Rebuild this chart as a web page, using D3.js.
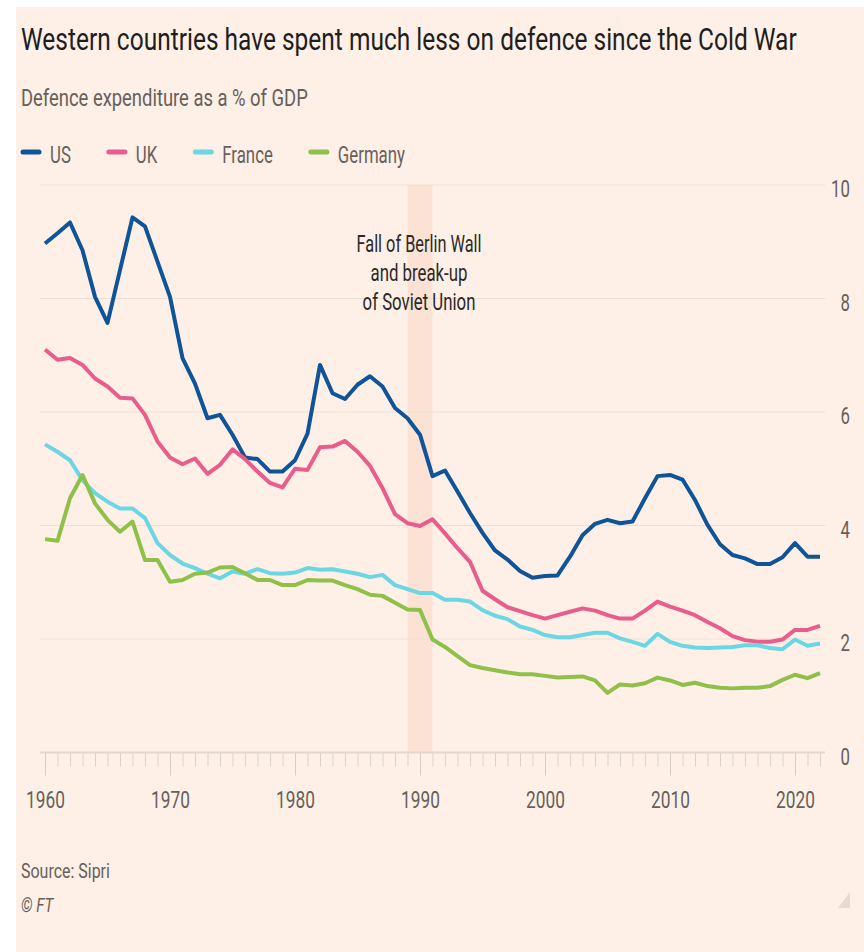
<!DOCTYPE html>
<html><head><meta charset="utf-8">
<script src="https://cdn.jsdelivr.net/npm/d3@7"></script>
<style>
body{margin:0;background:#fff;}
svg{display:block;}
text{font-family:Roboto,"Noto Sans",sans-serif;}
</style>
</head><body><div id="chart"></div>
<script>
// ---------- data ----------
const titleText = "Western countries have spent much less on defence since the Cold War";
const subtitleText = "Defence expenditure as a % of GDP";
const sourceText = "Source: Sipri";
const creditText = "\u00A9 FT";
const annotationLines = ["Fall of Berlin Wall", "and break-up", "of Soviet Union"];
const bandYears = [1989, 1991];
const years = d3.range(1960, 2023);
const xTickLabels = [1960, 1970, 1980, 1990, 2000, 2010, 2020];
const yTickLabels = [0, 2, 4, 6, 8, 10];
const seriesNames = ["US", "UK", "France", "Germany"];
const seriesColors = ["#0f5499", "#e95d8c", "#6bd6e4", "#8ec04a"];

const us = [8.97,9.15,9.34,8.85,8.03,7.57,8.5,9.43,9.27,8.65,8.03,6.95,6.5,5.89,5.95,5.6,5.2,5.17,4.95,4.95,
  5.15,5.62,6.83,6.33,6.23,6.48,6.63,6.45,6.07,5.89,5.6,4.87,4.97,4.6,4.22,3.87,3.56,3.4,3.2,3.08,
  3.11,3.12,3.45,3.83,4.03,4.1,4.04,4.07,4.48,4.87,4.89,4.81,4.45,4.01,3.67,3.48,3.42,3.32,3.32,3.44,
  3.69,3.45,3.45];
const uk = [7.1,6.92,6.95,6.83,6.59,6.45,6.25,6.24,5.95,5.48,5.2,5.08,5.18,4.91,5.07,5.34,5.17,4.95,4.75,4.67,
  5.0,4.98,5.38,5.39,5.49,5.3,5.05,4.66,4.2,4.04,3.99,4.11,3.86,3.6,3.36,2.85,2.7,2.56,2.49,2.42,
  2.36,2.42,2.48,2.54,2.5,2.42,2.36,2.36,2.5,2.66,2.57,2.5,2.42,2.3,2.19,2.05,1.98,1.95,1.95,1.99,
  2.16,2.16,2.23];
const france = [5.43,5.3,5.15,4.8,4.57,4.42,4.3,4.3,4.13,3.69,3.48,3.33,3.25,3.15,3.07,3.19,3.15,3.23,3.16,3.15,
  3.17,3.25,3.22,3.23,3.19,3.15,3.09,3.13,2.95,2.88,2.81,2.81,2.69,2.69,2.66,2.51,2.41,2.35,2.22,2.16,
  2.07,2.03,2.03,2.07,2.11,2.11,2.01,1.95,1.88,2.09,1.95,1.88,1.85,1.84,1.85,1.86,1.89,1.89,1.84,1.82,
  1.99,1.88,1.92];
const germany = [3.76,3.73,4.48,4.89,4.39,4.1,3.89,4.07,3.39,3.39,3.01,3.04,3.15,3.17,3.26,3.27,3.16,3.04,3.04,2.95,
  2.95,3.04,3.03,3.03,2.95,2.88,2.78,2.76,2.64,2.52,2.51,1.99,1.86,1.7,1.54,1.49,1.45,1.41,1.38,1.38,
  1.35,1.32,1.33,1.34,1.27,1.05,1.2,1.18,1.22,1.32,1.27,1.19,1.23,1.17,1.14,1.13,1.14,1.14,1.17,1.28,
  1.37,1.31,1.4];
const seriesValues = [us, uk, france, germany];

// ---------- layout ----------
const W = 864, H = 952;
const textDark = "#1e1e1e", textGrey = "#66605c";
const svg = d3.select("#chart").append("svg").attr("width", W).attr("height", H);
svg.append("rect").attr("x", 16).attr("y", 7).attr("width", W - 16).attr("height", H - 7).attr("fill", "#fef0e6");

// squeezed text helper (reference text is horizontally condensed)
function addText(parent, str, x, y, o) {
  const t = parent.append("text").text(str)
    .attr("x", 0).attr("y", 0)
    .attr("font-size", o.size).attr("fill", o.color)
    .attr("text-anchor", o.anchor || "start")
    .attr("font-style", o.italic ? "italic" : "normal");
  const len = t.node().getComputedTextLength();
  const k = o.width ? o.width / len : (o.k || 0.72);
  t.attr("transform", `translate(${x},${y}) scale(${k},1)`);
  return {node: t, width: len * k};
}

addText(svg, titleText, 21, 50, {size: 32, color: textDark, width: 776});
addText(svg, subtitleText, 21, 106, {size: 24, color: textGrey, width: 287});

// legend
let lx = 21;
seriesNames.forEach((name, i) => {
  svg.append("line").attr("x1", lx + 2).attr("x2", lx + 18).attr("y1", 152).attr("y2", 152)
    .attr("stroke", seriesColors[i]).attr("stroke-width", 5).attr("stroke-linecap", "round");
  const t = addText(svg, name, lx + 29, 162.5, {size: 24, color: textGrey, k: 0.7});
  lx = lx + 29 + t.width + 36;
});

// scales
const x = d3.scaleLinear().domain([1960, 2022]).range([45, 820]);
const y = d3.scaleLinear().domain([0, 10]).range([752.5, 185]);

// band
svg.append("rect")
  .attr("x", x(bandYears[0])).attr("width", x(bandYears[1]) - x(bandYears[0]))
  .attr("y", y(10)).attr("height", y(0) - y(10))
  .attr("fill", "#fbe2d4");

// gridlines
svg.append("g").selectAll("line").data(yTickLabels.filter(d => d > 0)).join("line")
  .attr("x1", 40).attr("x2", 825).attr("y1", d => y(d)).attr("y2", d => y(d))
  .attr("stroke", "#ebe0d6").attr("stroke-width", 1.2);

// y axis labels
const yAxis = svg.append("g").attr("transform", "translate(850,0)")
  .call(d3.axisLeft(y).tickValues(yTickLabels).tickSize(0).tickPadding(0));
yAxis.select(".domain").remove();
yAxis.selectAll("text").attr("x", 0).attr("dy", 0).attr("y", 11.5)
  .attr("font-size", 24).attr("fill", textGrey).attr("font-family", "Roboto, 'Noto Sans', sans-serif")
  .attr("text-anchor", "end").attr("transform", "scale(0.7,1)");

// x axis: minor ticks, major ticks, baseline
const xg = svg.append("g").attr("transform", `translate(0,${y(0)})`);
const minor = xg.append("g").call(d3.axisBottom(x).tickValues(years).tickSize(14).tickFormat(""));
minor.select(".domain").remove();
minor.selectAll("line").attr("stroke", "#ddd2c8").attr("stroke-width", 1);
const major = xg.append("g").call(d3.axisBottom(x).tickValues(xTickLabels).tickSize(23).tickFormat(d3.format("d")));
major.select(".domain").remove();
major.selectAll("line").attr("stroke", "#d8cdc3").attr("stroke-width", 1);
major.selectAll("text").attr("y", 55.5).attr("dy", 0)
  .attr("font-size", 24).attr("fill", textGrey).attr("font-family", "Roboto, 'Noto Sans', sans-serif")
  .attr("transform", "scale(0.72,1)");
xg.append("line").attr("x1", 40).attr("x2", 825).attr("y1", 0).attr("y2", 0)
  .attr("stroke", "#e2d7cd").attr("stroke-width", 2);

// lines
const line = d3.line().x((d, i) => x(years[i])).y(d => y(d));
seriesValues.forEach((vals, i) => {
  svg.append("path").datum(vals).attr("d", line)
    .attr("fill", "none").attr("stroke", seriesColors[i]).attr("stroke-width", 4)
    .attr("stroke-linejoin", "round").attr("stroke-linecap", "butt");
});

// annotation
const annoWidths = [125, 97, 113];
annotationLines.forEach((s, i) => {
  addText(svg, s, 419, 252 + i * 29, {size: 23, color: "#2a2a2a", anchor: "middle", width: annoWidths[i]});
});

// footer
addText(svg, sourceText, 21, 878, {size: 21, color: textGrey, width: 89});
addText(svg, creditText, 21, 912, {size: 21, color: textGrey, italic: true, k: 0.72});

// corner grip
svg.append("path").attr("d", "M850,892 L850,908 L838,908 Z").attr("fill", "#e5dbd1");
</script>
</body></html>
